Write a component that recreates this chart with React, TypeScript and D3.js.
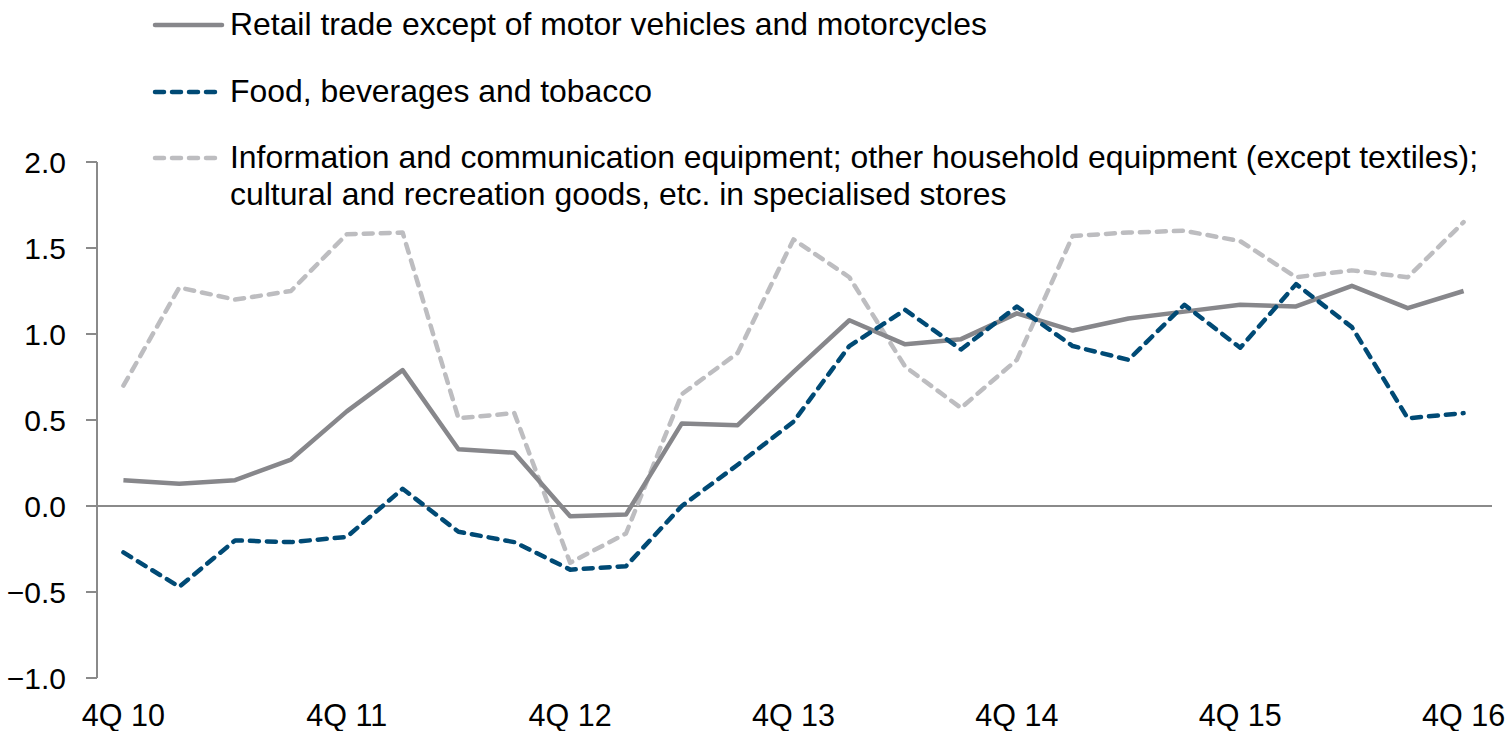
import React from "react";
import * as d3 from "d3";

const categories = [
  "4Q 10","1Q 11","2Q 11","3Q 11","4Q 11","1Q 12","2Q 12","3Q 12","4Q 12",
  "1Q 13","2Q 13","3Q 13","4Q 13","1Q 14","2Q 14","3Q 14","4Q 14",
  "1Q 15","2Q 15","3Q 15","4Q 15","1Q 16","2Q 16","3Q 16","4Q 16"
];
const tickLabels = ["4Q 10","4Q 11","4Q 12","4Q 13","4Q 14","4Q 15","4Q 16"];
const yTicks = [-1.0, -0.5, 0.0, 0.5, 1.0, 1.5, 2.0];

const retail = [0.15,0.13,0.15,0.27,0.55,0.79,0.33,0.31,-0.06,-0.05,0.48,0.47,0.78,1.08,0.94,0.97,1.12,1.02,1.09,1.13,1.17,1.16,1.28,1.15,1.25];
const food = [-0.27,-0.47,-0.20,-0.21,-0.18,0.10,-0.15,-0.21,-0.37,-0.35,0.0,0.24,0.49,0.93,1.14,0.91,1.16,0.93,0.85,1.17,0.92,1.29,1.04,0.51,0.54];
const ict = [0.70,1.27,1.20,1.25,1.58,1.59,0.51,0.54,-0.33,-0.16,0.65,0.89,1.55,1.33,0.81,0.57,0.85,1.57,1.59,1.60,1.54,1.33,1.37,1.33,1.65];

const seriesNames = [
  "Retail trade except of motor vehicles and motorcycles",
  "Food, beverages and tobacco",
  "Information and communication equipment; other household equipment (except textiles);",
  "cultural and recreation goods, etc. in specialised stores",
];

export default function App() {
  const W = 1510, H = 731;
  const x = d3.scaleBand<string>().domain(categories).range([95.5, 1491.5]);
  const cx = (c: string) => (x(c) as number) + x.bandwidth() / 2;
  const y = d3.scaleLinear().domain([-1, 2]).range([678, 162]);
  const line = d3.line<number>().x((_, i) => cx(categories[i])).y((d) => y(d));
  const font = "'Liberation Sans', Arial, sans-serif";
  const axisColor = "#8a8a8a";
  const series = [
    { data: retail, color: "#87878b", dash: null as string | null },
    { data: food, color: "#004a75", dash: "9,8" },
    { data: ict, color: "#bdbdc0", dash: "9,8" },
  ];
  const legendRows = [
    { y: 25, ...series[0], lines: [seriesNames[0]] },
    { y: 92, ...series[1], lines: [seriesNames[1]] },
    { y: 158, ...series[2], lines: [seriesNames[2], seriesNames[3]] },
  ];
  return (
    <svg width={W} height={H} style={{ position: "absolute", left: 0, top: 0, background: "#fff" }}>
      <line x1={97} x2={97} y1={y(2)} y2={y(-1)} stroke={axisColor} strokeWidth={2} />
      {yTicks.map((t) => (
        <g key={t}>
          <line x1={86} x2={97} y1={y(t)} y2={y(t)} stroke={axisColor} strokeWidth={2} />
          <text x={66} y={y(t) + 11} textAnchor="end" fontFamily={font} fontSize={30} fill="#000">
            {d3.format(".1f")(t)}
          </text>
        </g>
      ))}
      <line x1={97} x2={1492} y1={y(0)} y2={y(0)} stroke={axisColor} strokeWidth={2} />
      {tickLabels.map((c) => (
        <text key={c} x={cx(c)} y={726} textAnchor="middle" fontFamily={font} fontSize={30.5} fill="#000">
          {c}
        </text>
      ))}
      {[series[2], series[0], series[1]].map((s, i) => (
        <path
          key={i}
          d={line(s.data) || ""}
          fill="none"
          stroke={s.color}
          strokeWidth={4.5}
          strokeDasharray={s.dash || undefined}
          strokeLinecap={s.dash ? "round" : "butt"}
          strokeLinejoin="round"
        />
      ))}
      {legendRows.map((r, i) => (
        <g key={i}>
          <line x1={155} x2={222} y1={r.y} y2={r.y} stroke={r.color} strokeWidth={4.5}
            strokeDasharray={r.dash || undefined} strokeLinecap="round" />
          {r.lines.map((t, j) => (
            <text key={j} x={230} y={r.y + 9.5 + j * 37} fontFamily={font} fontSize={31.9} fill="#000">
              {t}
            </text>
          ))}
        </g>
      ))}
    </svg>
  );
}
